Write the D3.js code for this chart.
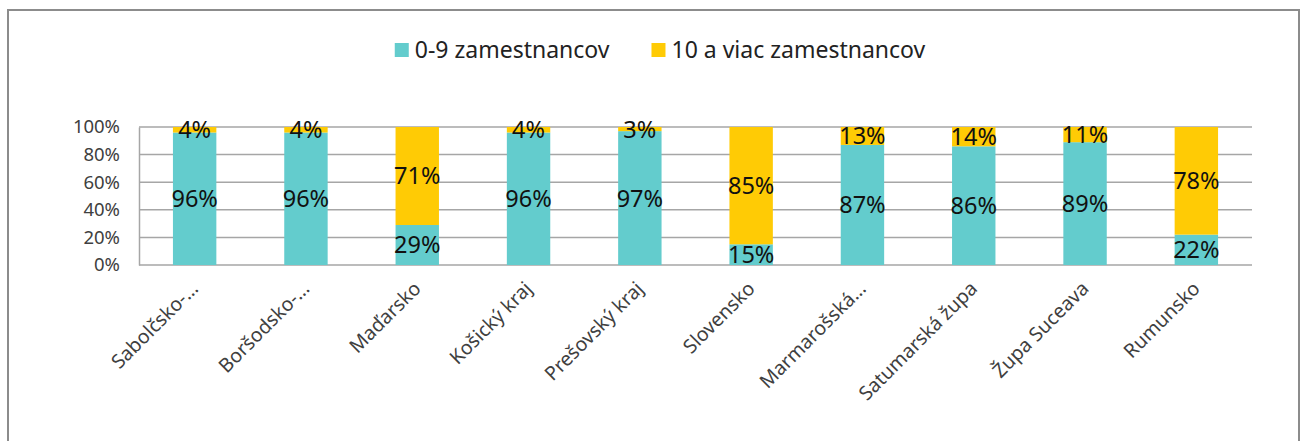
<!DOCTYPE html>
<html>
  <head>
    <meta charset="utf-8">
    <title>Zamestnanci podľa veľkosti podniku</title>
    <script src="https://d3js.org/d3.v7.min.js"></script>
    <style>
      body { margin: 0; background: #fff; }
      text { font-family: "Noto Sans", "Open Sans", sans-serif; }
      .y-axis .tick text { font-size: 18.5px; fill: #404040; }
      .x-axis .tick text { font-size: 19.5px; fill: #404040; }
      .legend text { font-size: 23px; fill: #222; }
      .value-label { font-size: 23.5px; fill: #111; }
    </style>
  </head>
  <body>
    <svg width="1303" height="441"></svg>
    <script>
      const categories = ["Sabolčsko-…", "Boršodsko-…", "Maďarsko", "Košický kraj", "Prešovský kraj",
        "Slovensko", "Marmarošská…", "Satumarská župa", "Župa Suceava", "Rumunsko"];
      const seriesNames = ["0-9 zamestnancov", "10 a viac zamestnancov"];
      const small = [96, 96, 29, 96, 97, 15, 87, 86, 89, 22];
      const large = [4, 4, 71, 4, 3, 85, 13, 14, 11, 78];
      const yTicks = [0, 20, 40, 60, 80, 100];

      const colors = ["#63cccd", "#ffcb05"];
      const svg = d3.select("svg");

      // outer chart frame
      svg.append("rect")
        .attr("x", 8).attr("y", 10)
        .attr("width", 1291).attr("height", 440)
        .attr("fill", "none").attr("stroke", "#8c8c8c").attr("stroke-width", 2);

      const margin = { left: 139, right: 51, top: 127, bottom: 176 };
      const width = 1303 - margin.left - margin.right;
      const height = 441 - margin.top - margin.bottom;

      const g = svg.append("g").attr("transform", `translate(${margin.left},${margin.top})`);

      const x = d3.scaleBand().domain(categories).range([0, width]).paddingInner(0.61).paddingOuter(0.305);
      const y = d3.scaleLinear().domain([0, 100]).range([height, 0]);

      // gridlines
      g.append("g")
        .selectAll("line")
        .data(yTicks)
        .join("line")
          .attr("x1", 0).attr("x2", width)
          .attr("y1", d => y(d)).attr("y2", d => y(d))
          .attr("stroke", "#a6a6a6").attr("stroke-width", 1.5);

      const table = categories.map((c, i) => ({ cat: c, values: [small[i], large[i]] }));
      const stack = d3.stack().keys([0, 1]).value((d, k) => d.values[k]);
      const layers = stack(table);

      const layerG = g.selectAll(".layer")
        .data(layers)
        .join("g")
          .attr("class", "layer")
          .attr("fill", (d, i) => colors[i]);

      layerG.selectAll("rect")
        .data(d => d)
        .join("rect")
          .attr("x", d => x(d.data.cat))
          .attr("width", x.bandwidth())
          .attr("y", d => y(d[1]))
          .attr("height", d => y(d[0]) - y(d[1]));

      // y axis
      const yAxis = g.append("g")
        .attr("class", "y-axis")
        .call(d3.axisLeft(y).tickValues(yTicks).tickFormat(d => d + "%").tickSize(0).tickPadding(19));
      yAxis.select(".domain").attr("stroke", "#a6a6a6").attr("stroke-width", 1.5);

      // x axis
      const xAxis = g.append("g")
        .attr("class", "x-axis")
        .attr("transform", `translate(0,${height})`)
        .call(d3.axisBottom(x).tickSize(0).tickPadding(0));
      xAxis.select(".domain").remove();
      xAxis.selectAll(".tick text")
        .attr("text-anchor", "end")
        .attr("transform", "translate(0,20) rotate(-45)")
        .attr("dy", "0.35em");

      // data labels
      layers.forEach(layer => {
        g.append("g")
          .selectAll("text")
          .data(layer)
          .join("text")
            .attr("class", "value-label")
            .attr("x", d => x(d.data.cat) + x.bandwidth() / 2)
            .attr("y", d => y((d[0] + d[1]) / 2))
            .attr("dy", "0.36em")
            .attr("text-anchor", "middle")
            .text(d => (d[1] - d[0]) + "%");
      });

      // legend
      const legend = svg.append("g").attr("class", "legend");
      const items = legend.selectAll("g")
        .data(seriesNames)
        .join("g");
      items.append("rect")
        .attr("width", 14).attr("height", 14)
        .attr("y", 43)
        .attr("fill", (d, i) => colors[i]);
      items.append("text")
        .attr("x", 20).attr("y", 58)
        .text(d => d);
      let cursor = 0;
      items.each(function () {
        const w = 20 + this.querySelector("text").getComputedTextLength();
        d3.select(this).attr("transform", `translate(${cursor},0)`);
        cursor += w + 42;
      });
      const totalW = cursor - 42;
      legend.attr("transform", `translate(${660 - totalW / 2},0)`);
    </script>
  </body>
</html>
